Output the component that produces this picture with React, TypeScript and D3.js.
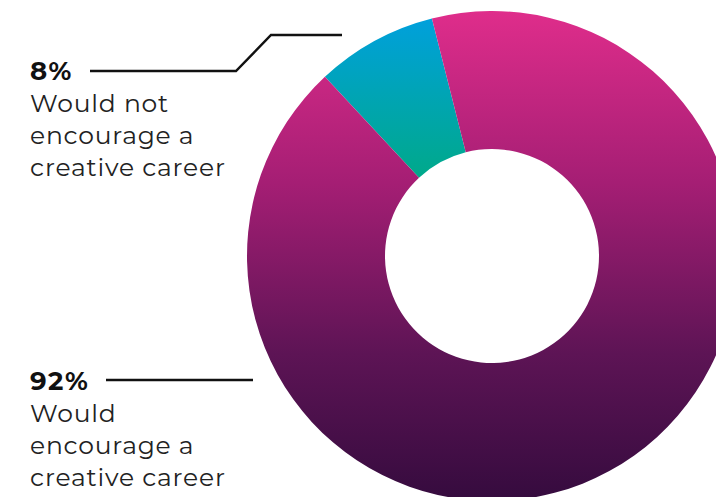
import React from "react";
import * as d3 from "d3";

const categories = ["Would not encourage a creative career", "Would encourage a creative career"];
const values = [8, 92];
const pctLabels = ["8%", "92%"];
const labelLines = [
  ["Would not", "encourage a", "creative career"],
  ["Would", "encourage a", "creative career"],
];

const W = 716;
const H = 497;
const cx = 492;
const cy = 256;
const outerR = 245;
const innerR = 107;

export default function App() {
  const pie = d3
    .pie<number>()
    .sort(null)
    .value((d) => d)
    .startAngle((-43 * Math.PI) / 180)
    .endAngle((317 * Math.PI) / 180);
  const arcs = pie(values);
  const arc = d3.arc<d3.PieArcDatum<number>>().innerRadius(innerR).outerRadius(outerR);
  const fills = ["url(#gTeal)", "url(#gPurple)"];
  const font = "'Montserrat', 'Lato', 'Open Sans', sans-serif";

  return (
    <svg
      width={W}
      height={H}
      style={{ position: "absolute", left: 0, top: 0, display: "block" }}
      fontFamily={font}
    >
      <defs>
        <linearGradient id="gPurple" gradientUnits="userSpaceOnUse" x1={0} y1={-outerR} x2={0} y2={outerR}>
          <stop offset="0" stopColor="#df2d8b" />
          <stop offset="0.35" stopColor="#a51e74" />
          <stop offset="0.7" stopColor="#5d1455" />
          <stop offset="1" stopColor="#350b3e" />
        </linearGradient>
        <linearGradient id="gTeal" x1={0} y1={0} x2={0} y2={1}>
          <stop offset="0" stopColor="#00a0dc" />
          <stop offset="1" stopColor="#00a98a" />
        </linearGradient>
      </defs>
      <g transform={`translate(${cx},${cy})`}>
        {arcs.map((a, i) => (
          <path key={categories[i]} d={arc(a) || ""} fill={fills[i]} />
        ))}
      </g>
      {/* leader lines */}
      <polyline points="90,71 236,71 271,35 342,35" fill="none" stroke="#111" strokeWidth={2.5} />
      <line x1={106} y1={380} x2={253} y2={380} stroke="#111" strokeWidth={2.5} />
      {/* labels */}
      {[80, 390].map((y, i) => (
        <g key={i}>
          <text x={30} y={y} fontSize={26} fontWeight={700} fill="#111" letterSpacing={1.5}>
            {pctLabels[i]}
          </text>
          {labelLines[i].map((t, j) => (
            <text key={j} x={30} y={y + 32 * (j + 1)} fontSize={25} fill="#222" letterSpacing={0.8}>
              {t}
            </text>
          ))}
        </g>
      ))}
    </svg>
  );
}
